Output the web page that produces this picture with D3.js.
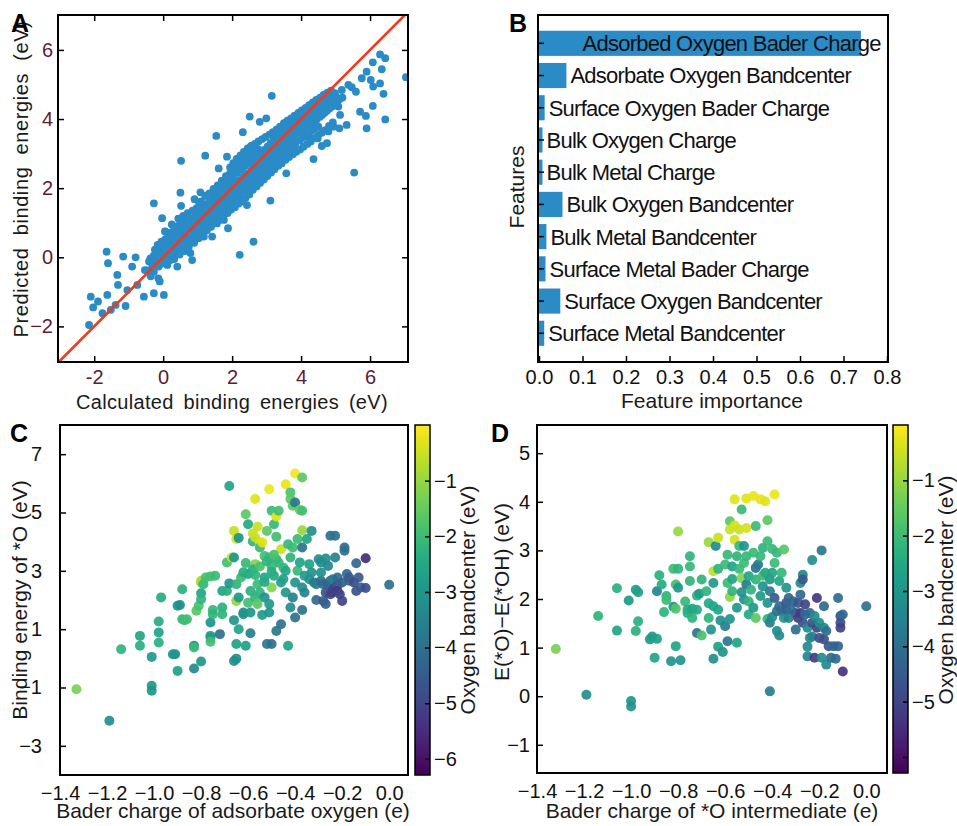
<!DOCTYPE html>
<html lang="en">
<head>
  <meta charset="UTF-8">
  <title>binding energies</title>
  <style>
    * { padding: 0; margin: 0; }
    body { background: #fff; }
    text { font-family: 'Liberation Sans', Arial, Helvetica, sans-serif; }
  </style>
</head>
<body>
  <script src="https://d3js.org/d3.v7.min.js"></script>
  <script>
    // ---- panel A: calculated vs predicted (eV), [calc, pred]
    const parityPoints = [
      [-2.15,-1.96],[-2.10,-1.14],[-2.03,-1.45],[-1.89,-1.28],[-1.76,-1.62],[-1.64,0.16],[-1.60,-0.17],[-1.62,-1.09],
      [-1.52,-1.52],[-1.38,-1.38],[-1.33,-0.51],[-1.31,-0.80],[-1.16,0.02],[-1.09,-1.41],[-1.04,-0.95],[-0.90,-0.27],
      [-0.80,0.0],[-0.75,-0.80],[-0.56,-1.14],[-0.53,-0.37],[-0.37,-0.03],[-0.27,1.56],[-0.27,-1.04],[-0.14,-0.61],
      [-0.10,-0.70],[-0.03,1.13],[0.02,-1.09],[0.07,0.74],[0.41,-0.27],[0.52,2.79],[0.50,1.87],[0.52,1.49],
      [0.84,-0.08],[0.91,1.68],[1.08,1.88],[1.22,2.94],[1.42,0.60],[1.54,3.51],[1.61,2.57],[1.85,2.91],
      [1.88,0.84],[2.22,0.07],[2.31,3.62],[2.51,4.07],[2.62,0.45],[2.80,3.92],[2.99,4.02],[3.11,1.64],
      [3.15,4.67],[3.57,2.43],[4.36,2.84],[4.60,3.22],[5.32,3.83],[5.54,2.45],[5.71,4.21],[5.90,3.73],
      [5.88,4.09],[6.08,4.38],[6.44,3.99],[6.39,4.73],[7.04,5.21],[6.29,5.87],[6.44,5.76],[6.08,5.64],
      [5.90,5.37],[5.76,5.18],[6.02,5.13],[6.09,4.94],[6.34,5.44],[6.29,5.03],[5.59,4.79],[5.37,4.99],
      [5.47,4.92],[5.18,4.84],[4.94,4.50],[5.08,4.36],[5.13,4.12],[4.94,3.78],[5.11,3.73],[4.79,3.64],
      [4.75,3.30],[4.48,3.44],[4.21,3.49],[3.97,3.39],[3.78,3.20],[3.68,3.06],[3.44,2.82],[3.30,2.91],
      [3.15,2.72],[3.01,2.53],[2.82,2.33],[2.62,2.43],[2.48,2.24],[2.29,2.04],[2.14,1.76],[2.24,1.61],
      [2.43,1.51],[2.04,1.66],[1.95,1.42],[1.71,1.27],[1.76,1.08],[1.56,0.98],[1.27,0.98],[1.08,0.79],
      [1.18,0.60],[0.98,0.69],[0.69,0.36],[0.79,0.12],[0.55,0.26],[0.31,0.02],[0.21,-0.08],
      [-0.45,-0.38],[-0.41,-0.12],[-0.36,-0.55],[-0.32,-0.21],[-0.28,0.04],[-0.27,-0.42],[-0.24,0.22],[-0.21,-0.08],
      [-0.18,0.14],[-0.16,0.36],[-0.13,-0.27],[-0.1,0.02],[-0.08,0.26],[-0.05,0.45],[-0.03,-0.18],[0.0,0.12],
      [0.02,0.31],[0.04,-0.08],[0.06,0.52],[0.09,0.21],[0.11,0.41],[0.13,0.02],[0.15,0.63],[0.18,0.29],
      [0.2,0.49],[0.22,0.11],[0.24,0.72],[0.27,0.37],[0.29,0.57],[0.31,0.16],[0.33,0.82],[0.36,0.46],
      [0.38,0.68],[0.4,0.26],[0.43,0.91],[0.45,0.53],[0.47,0.75],[0.5,0.31],[0.52,0.96],[0.55,0.61],
      [0.57,0.83],[0.6,0.41],[0.62,1.02],[0.65,0.68],[0.67,0.88],[0.7,0.49],[0.72,1.07],[0.74,0.29],
      [0.77,0.79],[0.79,0.98],[0.81,0.58],[0.84,1.12],[0.86,0.83],[0.88,1.04],[0.91,0.64],[0.93,1.21],
      [0.96,0.92],[0.98,1.13],[1.0,0.74],[1.02,1.31],[1.04,1.58],[1.07,0.98],[1.09,1.19],[1.11,0.84],
      [1.14,1.41],[1.16,1.08],[1.19,1.29],[1.21,0.91],[1.23,1.52],[1.26,1.16],[1.28,1.39],[1.31,0.96],
      [1.33,1.61],[1.36,1.28],[1.38,1.53],[1.4,1.11],[1.43,1.76],[1.45,1.37],[1.48,1.64],[1.5,1.21],
      [1.52,1.86],[1.55,1.47],[1.57,1.72],[1.6,1.29],[1.62,1.92],[1.64,1.56],[1.67,1.79],[1.69,1.36],
      [1.72,2.01],[1.74,1.63],[1.77,1.88],[1.79,1.44],[1.81,2.11],[1.84,1.71],[1.86,1.96],[1.88,1.52],
      [1.91,2.21],[1.93,2.41],[1.95,1.79],[1.98,2.04],[2.0,1.61],[2.02,2.31],[2.05,2.52],[2.07,1.88],
      [2.09,2.13],[2.12,1.71],[2.14,2.44],[2.16,2.66],[2.19,1.97],[2.21,2.23],[2.23,1.81],[2.26,2.54],
      [2.28,2.76],[2.3,2.07],[2.33,2.33],[2.35,1.94],[2.37,2.64],[2.4,2.86],[2.42,2.18],[2.44,2.42],
      [2.47,2.03],[2.49,2.73],[2.51,2.96],[2.54,2.27],[2.56,2.52],[2.58,2.11],[2.61,2.83],[2.63,3.04],
      [2.65,2.38],[2.68,2.61],[2.7,2.22],[2.72,2.92],[2.75,3.13],[2.77,2.47],[2.79,2.71],[2.82,2.34],
      [2.84,3.01],[2.86,2.57],[2.89,2.81],[2.91,2.43],[2.93,3.11],[2.96,2.68],[2.98,2.91],[3.0,2.52],
      [3.03,3.21],[3.05,2.79],[3.07,3.02],[3.1,2.63],[3.12,3.31],[3.14,2.87],[3.17,3.12],[3.19,2.72],
      [3.21,3.41],[3.24,2.98],[3.26,3.23],[3.28,2.83],[3.31,3.51],[3.33,3.08],[3.35,3.32],[3.38,2.92],
      [3.4,3.61],[3.42,3.17],[3.45,3.42],[3.47,3.01],[3.49,3.69],[3.52,3.27],[3.54,3.51],[3.56,3.08],
      [3.59,3.76],[3.61,3.36],[3.63,3.59],[3.66,3.16],[3.68,3.84],[3.7,3.44],[3.73,3.67],[3.75,3.23],
      [3.77,3.91],[3.8,3.52],[3.82,3.76],[3.84,3.31],[3.87,3.98],[3.89,3.61],[3.91,3.83],[3.94,3.38],
      [3.96,4.04],[3.98,3.67],[4.01,3.89],[4.03,3.46],[4.05,4.11],[4.08,3.74],[4.1,3.96],[4.12,3.53],
      [4.15,4.17],[4.17,3.81],[4.19,4.02],[4.22,3.59],[4.24,4.23],[4.26,3.87],[4.29,4.08],[4.31,3.66],
      [4.33,4.31],[4.36,3.93],[4.38,4.14],[4.4,3.72],[4.43,4.38],[4.45,3.99],[4.47,4.21],[4.5,3.78],
      [4.52,4.44],[4.54,4.06],[4.57,4.27],[4.59,4.51],[4.61,4.12],[4.64,4.34],[4.66,4.57],[4.68,4.18],
      [4.71,4.41],[4.73,4.63],[4.75,4.24],[4.78,4.47],[4.8,4.69],[4.83,4.31],[4.86,4.53],[4.9,4.36],
      [4.93,4.59],[4.97,4.42],[5.01,4.66],
      [0.05,0.75],[0.12,-0.22],[0.25,0.95],[0.32,-0.05],[0.44,1.12],[0.48,0.08],[0.58,1.2],[0.63,0.18],
      [0.71,1.28],[0.76,0.52],[0.85,1.35],[0.9,0.42],[0.97,1.42],[1.03,0.55],[1.1,1.62],[1.15,0.68],
      [1.22,1.78],[1.27,0.78],[1.34,1.85],[1.39,0.88],[1.46,1.98],[1.51,1.02],[1.58,2.08],[1.63,1.08],
      [1.7,2.22],[1.75,1.18],[1.82,2.35],[1.87,1.28],[1.94,2.6],[1.97,1.38],[2.03,2.72],[2.08,1.45],
      [2.13,2.85],[2.18,1.55],[2.24,2.95],[2.29,1.62],[2.34,3.05],[2.39,1.72],[2.45,3.15],[2.5,1.82],
      [2.55,3.22],[2.6,1.95],[2.66,3.28],[2.71,2.05],[2.76,3.35],[2.81,2.15],[2.87,3.42],[2.92,2.25],
      [2.97,3.48],[3.02,2.35],[3.08,3.55],[3.13,2.45],[3.18,3.62],[3.23,2.55],[3.29,3.7],[3.34,2.65],
      [3.39,3.78],[3.44,2.72],[3.5,3.88],[3.55,2.82],[3.6,3.95],[3.65,2.9],[3.71,4.02],[3.76,2.98],
      [3.81,4.1],[3.86,3.05],[3.92,4.18],[3.97,3.12],[4.02,4.25],[4.07,3.2],[4.13,4.32],[4.18,3.28],
      [4.23,4.4],[4.28,3.35],[4.34,4.48],[4.39,3.45],[4.44,4.55],[4.49,3.52],[4.55,4.62],[4.6,3.6],
      [4.65,4.7],[4.7,3.68],[4.76,4.76],[4.81,3.8],[4.87,4.82],[4.92,3.9],[4.98,4.75],[5.05,4.5],
      [5.12,4.58],[5.2,4.62],[1.61,1.66],[1.71,1.72],[1.79,1.77],[2.01,1.96],[2.11,2.04],[2.21,2.16],
      [2.31,2.24],[2.41,2.33],[2.52,2.44],[2.59,2.56],[2.69,2.66],[2.81,2.79],[2.9,2.85],[3.01,2.98],
      [3.11,3.06],[3.21,3.18],[3.29,3.24],[3.41,3.34],[3.51,3.41],[3.59,3.51],[3.69,3.56],[3.81,3.65],
      [3.9,3.71],[4.0,3.81],[4.09,3.85],[4.21,3.94],[4.3,3.99],[4.41,4.08],[4.5,4.14],[4.61,4.23],[4.69,4.29]
    ];
    const parityTicks = [-2, 0, 2, 4, 6];

    // ---- panel B: feature importance
    const features = [
      'Adsorbed Oxygen Bader Charge', 'Adsorbate Oxygen Bandcenter', 'Surface Oxygen Bader Charge',
      'Bulk Oxygen Charge', 'Bulk Metal Charge', 'Bulk Oxygen Bandcenter', 'Bulk Metal Bandcenter',
      'Surface Metal Bader Charge', 'Surface Oxygen Bandcenter', 'Surface Metal Bandcenter'
    ];
    const importance = [0.740, 0.063, 0.013, 0.008, 0.008, 0.054, 0.017, 0.015, 0.049, 0.012];
    const importanceTicks = [0, 0.1, 0.2, 0.3, 0.4, 0.5, 0.6, 0.7, 0.8];

    // ---- panel C: [bader charge, binding energy *O, oxygen bandcenter]
    const bindingPoints = [
      [-1.33,-1.06,-1.3],[-1.19,-2.14,-3.2],[-1.14,0.31,-2.2],[-1.06,0.77,-2.6],[-1.06,0.43,-2.3],[-1.01,0.05,-2.9],
      [-1.01,-0.94,-2.9],[-1.01,-1.11,-3.0],[-0.98,0.89,-2.6],[-0.98,1.26,-2.4],[-0.98,0.54,-2.3],[-0.97,2.09,-2.4],
      [-0.92,0.14,-3.0],[-0.91,0.14,-3.0],[-0.90,-0.43,-2.7],[-0.90,1.80,-3.1],[-0.89,1.83,-3.2],[-0.88,2.37,-2.3],
      [-0.88,1.34,-2.1],[-0.87,1.31,-2.0],[-0.86,1.34,-1.9],[-0.83,0.43,-3.2],[-0.83,-0.35,-3.3],[-0.83,0.37,-2.0],
      [-0.82,1.63,-1.7],[-0.81,1.80,-1.8],[-0.80,2.60,-1.0],[-0.80,2.66,-0.8],[-0.80,2.23,-2.6],[-0.80,-0.11,-3.0],
      [-0.80,2.03,-2.2],[-0.79,2.54,-2.1],[-0.78,2.77,-1.9],[-0.76,2.81,-1.9],[-0.76,1.23,-3.1],[-0.76,0.71,-2.3],
      [-0.76,0.77,-2.9],[-0.76,0.57,-1.9],[-0.74,2.83,-2.0],[-0.75,1.66,-2.1],[-0.75,1.51,-2.2],[-0.72,0.83,-4.0],
      [-0.71,1.74,-2.3],[-0.71,1.51,-2.2],[-0.71,2.31,-2.6],[-0.69,2.31,-2.3],[-0.69,3.29,-1.9],[-0.68,5.91,-2.6],
      [-0.68,2.57,-3.0],[-0.67,3.46,-0.5],[-0.66,1.31,-3.0],[-0.66,-0.09,-3.2],[-0.66,3.46,-3.0],[-0.66,4.37,-0.6],
      [-0.65,4.09,-0.4],[-0.65,-0.01,-3.2],[-0.65,2.54,-2.2],[-0.65,1.97,-1.1],[-0.65,0.49,-2.7],[-0.64,4.13,-3.1],
      [-0.64,2.09,-2.9],[-0.64,1.0,-2.6],[-0.63,2.77,-2.0],[-0.62,1.57,-3.1],[-0.62,1.51,-3.0],[-0.61,4.94,-1.6],
      [-0.61,3.27,-2.1],[-0.61,0.43,-2.7],[-0.60,1.91,-1.9],[-0.60,4.60,-2.5],[-0.60,2.89,-2.6],[-0.59,2.31,-2.3],
      [-0.59,1.57,-3.0],[-0.59,0.86,-3.6],[-0.58,4.28,-0.5],[-0.58,4.01,-2.2],[-0.57,4.14,-0.5],[-0.57,2.09,-2.2],
      [-0.57,5.46,-0.3],[-0.57,3.23,-1.2],[-0.56,4.51,-0.5],[-0.56,2.54,-2.0],[-0.56,1.86,-1.6],[-0.55,3.97,-0.4],
      [-0.55,3.80,-2.0],[-0.55,2.26,-2.2],[-0.54,1.49,-2.9],[-0.54,3.97,-0.3],[-0.53,3.51,-1.9],[-0.53,2.77,-2.6],
      [-0.53,2.09,-3.1],[-0.52,0.49,-3.8],[-0.52,4.37,-1.6],[-0.51,1.86,-2.9],[-0.51,5.80,-0.2],[-0.51,1.57,-3.0],
      [-0.51,3.46,-2.1],[-0.50,0.49,-4.0],[-0.50,5.06,-2.0],[-0.50,2.43,-1.2],[-0.50,3.17,-2.0],[-0.49,2.83,-2.5],
      [-0.49,4.60,-2.1],[-0.48,4.17,-1.9],[-0.48,4.86,-0.3],[-0.48,0.94,-3.8],[-0.48,3.40,-2.2],[-0.47,5.06,-1.9],
      [-0.46,2.60,-2.8],[-0.46,1.17,-3.9],[-0.46,3.74,-0.5],[-0.45,3.11,-2.1],[-0.44,3.0,-2.5],[-0.44,2.26,-2.9],
      [-0.44,5.97,-0.2],[-0.43,0.43,-2.6],[-0.43,3.91,-2.1],[-0.42,5.69,-1.8],[-0.42,5.46,-1.6],[-0.42,3.46,-2.2],
      [-0.42,1.74,-3.2],[-0.41,5.23,-1.6],[-0.41,2.09,-3.6],[-0.41,3.80,-2.0],[-0.40,5.34,-3.8],[-0.40,2.60,-3.0],
      [-0.40,1.40,-4.0],[-0.40,6.34,-0.1],[-0.39,3.0,-2.1],[-0.39,4.09,-2.0],[-0.38,3.29,-2.6],[-0.38,5.09,-1.5],
      [-0.37,1.66,-4.0],[-0.37,4.39,-1.0],[-0.37,6.20,-1.6],[-0.37,3.80,-3.9],[-0.37,2.43,-3.2],[-0.37,5.06,-1.9],
      [-0.36,2.26,-3.5],[-0.36,2.83,-2.9],[-0.35,4.09,-2.6],[-0.34,3.23,-2.7],[-0.34,2.71,-3.0],[-0.33,2.94,-3.1],
      [-0.33,4.37,-3.2],[-0.32,2.60,-3.8],[-0.31,2.54,-3.6],[-0.31,2.0,-4.2],[-0.30,3.40,-3.2],[-0.29,2.66,-4.0],
      [-0.29,3.29,-3.3],[-0.29,2.94,-3.2],[-0.28,2.54,-4.2],[-0.28,1.97,-4.5],[-0.27,2.26,-4.7],[-0.27,1.86,-4.4],
      [-0.27,3.42,-3.2],[-0.26,2.51,-4.3],[-0.26,3.17,-3.4],[-0.25,2.20,-5.0],[-0.25,2.66,-4.2],[-0.25,4.20,-4.0],
      [-0.24,2.37,-5.0],[-0.24,2.71,-3.6],[-0.24,2.26,-5.1],[-0.23,3.46,-3.5],[-0.23,4.20,-3.9],[-0.22,2.51,-4.8],
      [-0.22,2.31,-5.2],[-0.22,2.77,-4.2],[-0.21,2.20,-5.0],[-0.20,1.97,-5.0],[-0.20,2.60,-4.4],[-0.19,3.69,-4.0],
      [-0.19,3.80,-4.1],[-0.18,2.89,-4.2],[-0.17,2.66,-4.3],[-0.17,2.77,-4.5],[-0.15,2.60,-4.8],[-0.14,2.31,-4.7],
      [-0.14,3.26,-4.2],[-0.13,2.77,-4.5],[-0.12,2.43,-4.4],[-0.10,3.43,-5.5],[-0.10,2.41,-4.8],[0.0,2.52,-4.0],
      [-0.58,3.05,-2.3],[-0.55,3.15,-1.8],[-0.52,3.32,-2.2],[-0.50,2.98,-2.4],[-0.47,3.28,-2.1],[-0.45,2.72,-2.7],
      [-0.62,2.95,-2.4],[-0.57,2.86,-2.2],[-0.53,2.62,-2.5],[-0.49,3.55,-1.8]
    ];
    const chargeTicks = [-1.4, -1.2, -1.0, -0.8, -0.6, -0.4, -0.2, 0.0];
    const bindingTicks = [-3, -1, 1, 3, 5, 7];

    // ---- panel D: [bader charge, E(*O)-E(*OH), oxygen bandcenter]
    const gapPoints = [
      [-1.32,0.97,-1.3],[-1.19,0.03,-3.2],[-1.14,1.65,-2.2],[-1.06,2.22,-2.3],[-1.06,1.35,-2.6],[-1.01,1.97,-2.9],
      [-1.00,-0.10,-3.0],[-1.00,-0.21,-3.0],[-0.98,2.19,-2.8],[-0.97,2.14,-2.7],[-0.98,1.34,-2.3],[-0.97,1.54,-2.3],
      [-0.92,1.17,-2.9],[-0.91,1.23,-2.9],[-0.89,1.18,-2.7],[-0.90,0.79,-2.6],[-0.89,2.16,-3.5],[-0.88,2.49,-2.3],
      [-0.87,2.30,-2.4],[-0.86,1.73,-2.2],[-0.85,2.06,-2.2],[-0.85,1.98,-2.0],[-0.83,0.72,-3.1],[-0.82,1.84,-3.0],
      [-0.82,2.62,-2.0],[-0.81,2.30,-1.9],[-0.81,1.03,-2.6],[-0.80,3.39,-1.0],[-0.80,2.23,-2.9],[-0.80,2.62,-2.2],
      [-0.79,0.74,-3.0],[-0.81,1.80,-1.7],[-0.77,1.95,-2.1],[-0.76,1.78,-2.5],[-0.76,1.71,-2.3],[-0.75,2.67,-2.1],
      [-0.75,2.88,-2.2],[-0.75,2.37,-2.2],[-0.74,1.61,-2.2],[-0.74,1.80,-2.6],[-0.72,2.07,-2.2],[-0.72,1.30,-3.9],
      [-0.72,1.78,-2.5],[-0.71,2.11,-2.9],[-0.70,1.25,-1.8],[-0.70,2.40,-2.2],[-0.68,2.16,-2.2],[-0.67,1.91,-2.5],
      [-0.67,3.17,-1.0],[-0.67,1.61,-2.2],[-0.66,1.37,-3.0],[-0.65,2.57,-0.6],[-0.65,1.85,-2.6],[-0.65,2.33,-2.9],
      [-0.65,0.77,-3.2],[-0.64,3.09,-3.3],[-0.63,2.62,-2.2],[-0.63,3.26,-0.5],[-0.63,1.02,-2.7],[-0.63,1.78,-2.6],
      [-0.62,1.56,-3.2],[-0.61,0.91,-3.1],[-0.60,2.71,-2.0],[-0.60,1.44,-3.6],[-0.59,2.91,-2.1],[-0.59,2.33,-2.0],
      [-0.59,1.13,-3.8],[-0.58,2.04,-1.1],[-0.58,3.60,-1.6],[-0.58,3.43,-0.5],[-0.58,1.59,-3.0],[-0.57,2.41,-2.6],
      [-0.57,2.16,-2.2],[-0.57,2.67,-2.6],[-0.56,4.05,-0.3],[-0.56,3.22,-0.4],[-0.56,3.51,-0.4],[-0.55,2.88,-2.2],
      [-0.55,1.10,-2.6],[-0.55,1.82,-2.9],[-0.54,2.62,-2.0],[-0.54,3.43,-0.5],[-0.54,3.09,-2.1],[-0.53,3.84,-2.0],
      [-0.53,2.14,-3.1],[-0.53,2.43,-1.2],[-0.52,2.74,-2.0],[-0.52,3.09,-3.0],[-0.52,1.99,-3.1],[-0.51,2.30,-3.8],
      [-0.51,4.07,-0.3],[-0.51,2.88,-2.1],[-0.51,3.46,-0.4],[-0.50,2.47,-2.6],[-0.50,1.68,-2.5],[-0.50,1.95,-2.2],
      [-0.49,2.19,-2.2],[-0.48,2.95,-2.0],[-0.48,1.82,-2.9],[-0.48,4.12,-0.2],[-0.47,3.50,-2.0],[-0.47,1.61,-1.6],
      [-0.47,2.64,-3.9],[-0.47,2.40,-2.2],[-0.46,2.71,-3.8],[-0.45,4.05,-0.2],[-0.45,2.06,-2.9],[-0.45,2.88,-2.1],
      [-0.44,2.48,-2.0],[-0.44,2.26,-3.1],[-0.44,3.05,-2.2],[-0.43,4.01,-0.3],[-0.43,2.54,-2.5],[-0.42,3.19,-2.0],
      [-0.42,1.92,-3.0],[-0.42,1.59,-2.2],[-0.42,3.62,-1.6],[-0.41,2.40,-2.9],[-0.41,1.51,-3.6],[-0.41,0.10,-3.7],
      [-0.41,2.16,-3.7],[-0.40,2.54,-2.6],[-0.40,1.63,-3.2],[-0.40,3.03,-2.1],[-0.39,4.15,-0.2],[-0.39,2.02,-4.5],
      [-0.39,2.74,-2.0],[-0.38,1.34,-3.2],[-0.38,2.95,-2.1],[-0.38,1.75,-4.0],[-0.37,2.37,-2.6],[-0.37,1.85,-4.2],
      [-0.37,1.25,-3.3],[-0.36,1.75,-4.1],[-0.36,2.54,-2.1],[-0.35,1.61,-3.1],[-0.35,3.02,-1.7],[-0.34,2.23,-3.0],
      [-0.34,1.92,-4.7],[-0.34,1.78,-4.3],[-0.33,2.02,-4.2],[-0.33,1.61,-3.5],[-0.32,1.78,-4.0],[-0.31,1.95,-4.2],
      [-0.30,1.37,-4.0],[-0.30,1.71,-4.3],[-0.29,1.92,-4.6],[-0.29,1.61,-5.1],[-0.28,2.09,-4.2],[-0.28,2.33,-3.3],
      [-0.28,1.71,-5.2],[-0.27,2.50,-3.4],[-0.27,1.51,-4.8],[-0.27,2.40,-4.6],[-0.26,1.89,-5.0],[-0.26,1.68,-4.2],
      [-0.25,1.41,-3.3],[-0.25,1.02,-3.3],[-0.25,0.82,-3.5],[-0.24,1.20,-3.2],[-0.24,1.71,-4.2],[-0.23,1.23,-3.5],
      [-0.23,2.80,-3.2],[-0.23,1.51,-4.7],[-0.22,0.79,-5.2],[-0.22,1.65,-3.2],[-0.21,2.02,-5.3],[-0.21,1.41,-5.0],
      [-0.20,1.51,-3.2],[-0.20,1.20,-4.7],[-0.19,0.79,-3.2],[-0.19,3.00,-3.8],[-0.18,1.85,-4.1],[-0.18,1.17,-4.8],
      [-0.18,1.41,-3.3],[-0.17,0.65,-3.3],[-0.17,1.34,-4.0],[-0.16,1.03,-4.6],[-0.15,0.79,-4.1],[-0.14,1.03,-4.2],
      [-0.13,0.77,-4.2],[-0.12,2.02,-4.1],[-0.12,1.03,-4.4],[-0.11,1.51,-4.8],[-0.11,1.41,-5.1],[-0.11,1.65,-4.8],
      [-0.10,1.68,-4.2],[-0.10,0.51,-5.4],[0.0,1.85,-4.0]
    ];
    const gapTicks = [-1, 0, 1, 2, 3, 4, 5];
    const bandcenterTicks = [-1, -2, -3, -4, -5, -6];

    const blue = '#2a8bc7';
    const tickColor = '#5e1b35';

    const svg = d3.select('body')
      .append('svg')
      .attr('width', 957)
      .attr('height', 826);

    const defs = svg.append('defs');

    // small helpers
    const styleAxis = (g, size, color) => {
      g.select('.domain').remove();
      g.selectAll('.tick line').attr('stroke', '#000').attr('stroke-width', 1.5);
      g.selectAll('.tick text')
        .attr('font-size', size)
        .attr('fill', color)
        .attr('font-family', "'Liberation Sans', Arial, sans-serif");
    };
    const frame = (x0, x1, y0, y1) => svg.append('rect')
      .attr('x', x0).attr('y', y0)
      .attr('width', x1 - x0).attr('height', y1 - y0)
      .attr('fill', 'none').attr('stroke', '#000').attr('stroke-width', 2);
    const label = (txt, x, y, rot, size) => svg.append('text')
      .attr('transform', `translate(${x},${y}) rotate(${rot || 0})`)
      .attr('text-anchor', 'middle')
      .attr('font-size', size || 20)
      .attr('fill', '#1a1a1a')
      .text(txt);
    const letter = (txt, x, y) => svg.append('text')
      .attr('x', x).attr('y', y)
      .attr('font-size', 25).attr('font-weight', 'bold')
      .text(txt);

    // ============ A ============
    const xA = d3.scaleLinear().domain([-3.05, 7.1]).range([58, 408]);
    const yA = d3.scaleLinear().domain([-3.03, 7.01]).range([362, 15]);

    defs.append('clipPath').attr('id', 'clipA')
      .append('rect').attr('x', 58).attr('y', 15).attr('width', 350).attr('height', 347);

    svg.append('g').attr('transform', 'translate(0,362)')
      .call(d3.axisBottom(xA).tickValues(parityTicks).tickSize(-6).tickPadding(8)
        .tickFormat(d => d < 0 ? '-' + Math.abs(d) : d))
      .call(g => styleAxis(g, 20, tickColor));
    svg.append('g').attr('transform', 'translate(0,15)')
      .call(d3.axisTop(xA).tickValues(parityTicks).tickSize(-6).tickFormat(''))
      .call(g => styleAxis(g, 20, tickColor));
    svg.append('g').attr('transform', 'translate(58,0)')
      .call(d3.axisLeft(yA).tickValues(parityTicks).tickSize(-6).tickPadding(5)
        .tickFormat(d => d < 0 ? '\u2212' + Math.abs(d) : d))
      .call(g => styleAxis(g, 20, tickColor));
    svg.append('g').attr('transform', 'translate(408,0)')
      .call(d3.axisRight(yA).tickValues(parityTicks).tickSize(-6).tickFormat(''))
      .call(g => styleAxis(g, 20, tickColor));

    svg.append('g').attr('clip-path', 'url(#clipA)')
      .selectAll('circle')
      .data(parityPoints)
      .join('circle')
      .attr('cx', d => xA(d[0]))
      .attr('cy', d => yA(d[1]))
      .attr('r', 3.9)
      .attr('fill', blue);

    svg.append('line')
      .attr('clip-path', 'url(#clipA)')
      .attr('x1', xA(-3.05)).attr('y1', yA(-3.05))
      .attr('x2', xA(7.1)).attr('y2', yA(7.1))
      .attr('stroke', '#f03a1c').attr('stroke-width', 2.6);

    frame(58, 408, 15, 362);
    label('Predicted binding energies (eV)', 28, 179, -90, 20)
      .attr('letter-spacing', 0.6).attr('word-spacing', 6);
    label('Calculated binding energies (eV)', 232, 409, 0, 20)
      .attr('letter-spacing', 0.3).attr('word-spacing', 4);
    letter('A', 11, 32);

    // ============ B ============
    const xB = d3.scaleLinear().domain([0, 0.8]).range([539, 887]);
    const yB = d3.scaleBand().domain(features).range([27.2, 349.4])
      .paddingInner(0.22).paddingOuter(0.11);

    svg.append('g')
      .selectAll('rect')
      .data(features)
      .join('rect')
      .attr('x', xB(0))
      .attr('y', d => yB(d))
      .attr('width', (d, i) => xB(importance[i]) - xB(0))
      .attr('height', yB.bandwidth())
      .attr('fill', blue);

    svg.append('g')
      .selectAll('text')
      .data(features)
      .join('text')
      .attr('x', (d, i) => xB(Math.min(importance[i], 0.1)) + (importance[i] > 0.1 ? 0 : 4))
      .attr('y', d => yB(d) + yB.bandwidth() / 2)
      .attr('dy', '0.36em')
      .attr('font-size', 22)
      .attr('letter-spacing', -0.75)
      .attr('fill', '#111')
      .text(d => d);

    svg.append('g').attr('transform', 'translate(0,362)')
      .call(d3.axisBottom(xB).tickValues(importanceTicks).tickSize(-6).tickPadding(8)
        .tickFormat(d3.format('.1f')))
      .call(g => styleAxis(g, 20, '#111'));
    svg.append('g').attr('transform', 'translate(538,0)')
      .call(d3.axisLeft(yB).tickSize(-6).tickFormat(''))
      .call(g => styleAxis(g, 20, '#111'));

    frame(538, 888, 15, 362);
    label('Features', 524, 187, -90, 21);
    label('Feature importance', 712, 408, 0, 21);
    letter('B', 509, 32);

    // ============ C & D shared ============
    const color = d3.scaleSequential(d3.interpolateViridis).domain([-6.29, 0]);

    const grad = defs.append('linearGradient').attr('id', 'viridis')
      .attr('x1', 0).attr('y1', 1).attr('x2', 0).attr('y2', 0);
    grad.selectAll('stop')
      .data(d3.range(0, 1.0001, 0.05))
      .join('stop')
      .attr('offset', t => t)
      .attr('stop-color', t => d3.interpolateViridis(t));

    const colorbar = (x0, y0, y1, hideLast) => {
      const s = d3.scaleLinear().domain([-6.29, 0]).range([y1, y0]);
      svg.append('rect')
        .attr('x', x0).attr('y', y0).attr('width', 15).attr('height', y1 - y0)
        .attr('fill', 'url(#viridis)').attr('stroke', '#000').attr('stroke-width', 1.5);
      svg.append('g').attr('transform', `translate(${x0 + 15},0)`)
        .call(d3.axisRight(s).tickValues(bandcenterTicks).tickSize(-5).tickPadding(4)
          .tickFormat(d => hideLast && d === -6 ? '' : d3.format('d')(d)))
        .call(g => styleAxis(g, 20, '#111'));
    };

    const scatter = (pts, xs, ys) => svg.append('g')
      .selectAll('circle')
      .data(pts)
      .join('circle')
      .attr('cx', d => xs(d[0]))
      .attr('cy', d => ys(d[1]))
      .attr('r', 5)
      .attr('fill', d => color(d[2]))
      .attr('fill-opacity', 0.92);

    // ============ C ============
    const xC = d3.scaleLinear().domain([-1.4, 0.08]).range([60, 408]);
    const yC = d3.scaleLinear().domain([-4, 8]).range([775, 425]);

    svg.append('g').attr('transform', 'translate(0,775)')
      .call(d3.axisBottom(xC).tickValues(chargeTicks).tickSize(0).tickPadding(11)
        .tickFormat(d3.format('.1f')))
      .call(g => styleAxis(g, 20, '#111'));
    svg.append('g').attr('transform', 'translate(60,0)')
      .call(d3.axisLeft(yC).tickValues(bindingTicks).tickSize(-6).tickPadding(18)
        .tickFormat(d3.format('d')))
      .call(g => styleAxis(g, 20, '#111'));

    scatter(bindingPoints, xC, yC);
    frame(60, 408, 425, 775);
    colorbar(415, 425, 775, false);

    label('Binding energy of *O (eV)', 27, 600, -90, 21);
    label('Bader charge of adsorbate oxygen (e)', 233, 818, 0, 21);
    label('Oxygen bandcenter (eV)', 475, 600, -90, 21);
    letter('C', 10, 442);

    // ============ D ============
    const xD = d3.scaleLinear().domain([-1.4, 0.088]).range([537, 887]);
    const yD = d3.scaleLinear().domain([-1.58, 5.58]).range([773, 425]);

    svg.append('g').attr('transform', 'translate(0,773)')
      .call(d3.axisBottom(xD).tickValues(chargeTicks).tickSize(0).tickPadding(11)
        .tickFormat(d3.format('.1f')))
      .call(g => styleAxis(g, 20, '#111'));
    svg.append('g').attr('transform', 'translate(537,0)')
      .call(d3.axisLeft(yD).tickValues(gapTicks).tickSize(-6).tickPadding(7)
        .tickFormat(d3.format('d')))
      .call(g => styleAxis(g, 20, '#111'));

    scatter(gapPoints, xD, yD);
    frame(537, 887, 425, 773);
    colorbar(893, 425, 773, true);

    label('E(*O)\u2212E(*OH) (eV)', 509, 592, -90, 21);
    label('Bader charge of *O intermediate (e)', 712, 818, 0, 21);
    label('Oxygen bandcenter (eV)', 953, 590, -90, 21);
    letter('D', 491, 442);
  </script>
</body>
</html>
